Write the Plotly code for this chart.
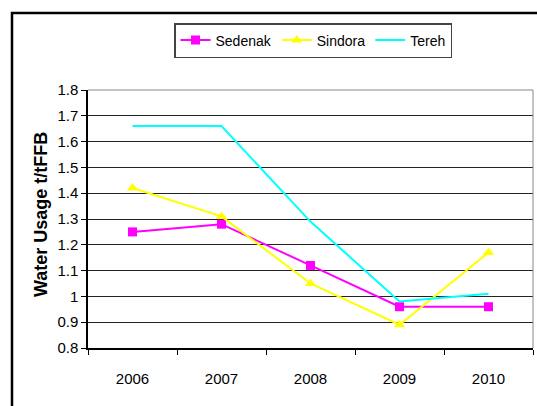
import plotly.graph_objects as go

years = ["2006", "2007", "2008", "2009", "2010"]
sedenak = [1.25, 1.28, 1.12, 0.96, 0.96]
sindora = [1.42, 1.31, 1.05, 0.89, 1.17]
tereh = [1.66, 1.66, 1.29, 0.98, 1.01]
y_ticks = [0.8, 0.9, 1.0, 1.1, 1.2, 1.3, 1.4, 1.5, 1.6, 1.7, 1.8]
y_tick_text = ["0.8", "0.9", "1", "1.1", "1.2", "1.3", "1.4", "1.5", "1.6", "1.7", "1.8"]

W, H = 537, 406
ML, MR, MT, MB = 88, 4, 90, 58
PW, PH = W - ML - MR, H - MT - MB


def px_to_paper(x, y):
    return (x - ML) / PW, (H - MB - y) / PH


fig = go.Figure()
fig.add_trace(go.Scatter(
    x=years, y=sedenak, name="Sedenak", mode="lines+markers",
    line=dict(color="#FF00FF", width=2),
    marker=dict(symbol="square", size=9, color="#FF00FF"),
))
fig.add_trace(go.Scatter(
    x=years, y=sindora, name="Sindora", mode="lines+markers",
    line=dict(color="#FFFF00", width=2),
    marker=dict(symbol="triangle-up", size=10, color="#FFFF00"),
))
fig.add_trace(go.Scatter(
    x=years, y=tereh, name="Tereh", mode="lines",
    line=dict(color="#00FFFF", width=2),
))

# outer chart frame (runs off the right and bottom edges)
fx, fy = px_to_paper(12, 13)
fx2, fy2 = px_to_paper(W + 10, H + 10)
fig.add_shape(type="path", xref="paper", yref="paper",
              path=f"M {fx},{fy2} L {fx},{fy} L {fx2},{fy}",
              line=dict(color="black", width=2.5))
# plot area border (top and right)
fig.add_shape(type="path", xref="paper", yref="paper",
              path="M 0,1 L 1,1 L 1,0",
              line=dict(color="#888888", width=1))

lx, ly = px_to_paper(313, 23)
tx, ty = px_to_paper(41, 215)
fig.add_annotation(text="<b>Water Usage t/tFFB</b>", xref="paper", yref="paper",
                   x=tx, y=ty, xanchor="center", yanchor="middle",
                   textangle=-90, showarrow=False,
                   font=dict(family="Liberation Sans, Arial", size=18, color="black"))

fig.update_layout(
    width=W, height=H,
    margin=dict(l=ML, r=MR, t=MT, b=MB),
    paper_bgcolor="white", plot_bgcolor="white",
    font=dict(family="Liberation Sans, Arial", size=15, color="black"),
    showlegend=True,
    legend=dict(orientation="h", x=lx, y=ly, xanchor="center", yanchor="top",
                bordercolor="#444444", borderwidth=1.5, bgcolor="white",
                font=dict(size=14), itemwidth=30, tracegroupgap=0),
    xaxis=dict(type="category", range=[-0.5, 4.5], showgrid=False,
               showline=True, linecolor="black", linewidth=1.5,
               ticks="outside", ticklen=5, tickcolor="black", tickson="boundaries",
               ticklabelstandoff=16,
               tickfont=dict(size=15), fixedrange=True),
    yaxis=dict(range=[0.8, 1.8], tickvals=y_ticks, ticktext=y_tick_text,
               showgrid=True, gridcolor="#222222", gridwidth=1,
               showline=True, linecolor="black", linewidth=1.5,
               ticks="outside", ticklen=5, tickcolor="black",
               tickfont=dict(size=15), zeroline=False),
)

fig.write_html("out.html")
